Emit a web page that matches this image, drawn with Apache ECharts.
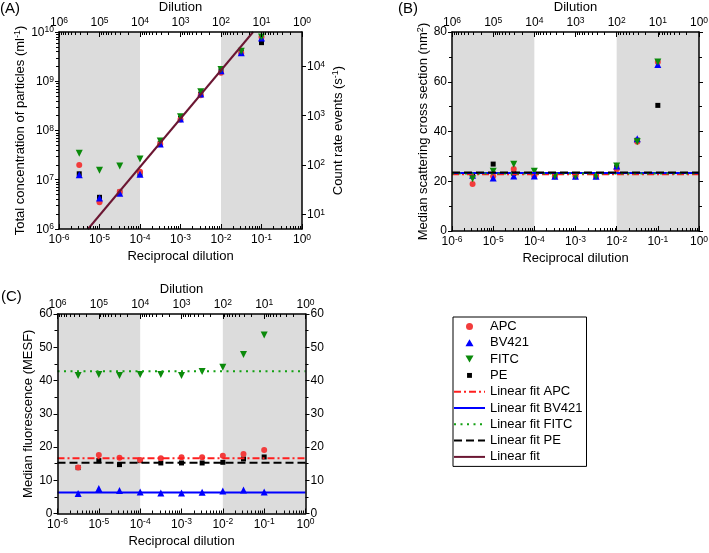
<!DOCTYPE html>
<html><head><meta charset="utf-8">
<script src="https://cdn.jsdelivr.net/npm/echarts@6/dist/echarts.min.js"></script>
<style>html,body{margin:0;padding:0;background:#fff}#c{width:709px;height:553px}</style>
</head><body><div id="c"></div>
<script>
// ---------- data ----------
const reciprocalDilution = [3.16e-6, 1e-5, 3.16e-5, 1e-4, 3.16e-4, 1e-3, 3.16e-3, 1e-2, 3.16e-2, 1e-1];
const shadedRanges = [[1e-6, 1e-4], [1e-2, 1]];
const fitXRange = [1e-6, 1];

// (A) total concentration of particles (ml^-1)
const concAPC   = [2.0e7, 3.5e6, 5.7e6, 1.45e7, 5.3e7, 1.68e8, 5.2e8, 1.48e9, 3.76e9, 7.9e9];
const concBV421 = [1.26e7, 4.24e6, 5.3e6, 1.3e7, 5.3e7, 1.71e8, 5.5e8, 1.63e9, 3.8e9, 7.57e9];
const concFITC  = [3.45e7, 1.56e7, 1.9e7, 2.65e7, 6.1e7, 1.9e8, 6.1e8, 1.73e9, 4.06e9, 7.9e9];
const concPE    = [1.32e7, 4.4e6, 5.6e6, 1.32e7, 5.5e7, 1.75e8, 5.5e8, 1.63e9, 3.9e9, 6.08e9];
const linearFitX = [5.2e-6, 6.2e-2];
const linearFitY = [1e6, 1e10];

// (B) median scattering cross section (nm^2)
const scatAPC   = [18.9, 22.0, 24.9, 22.1, 22.0, 22.0, 22.0, 24.8, 35.9, 67.9];
const scatBV421 = [22.4, 21.3, 22.1, 22.1, 22.0, 22.0, 22.0, 26.1, 37.1, 66.9];
const scatFITC  = [21.0, 24.0, 26.8, 24.0, 22.0, 22.0, 22.0, 26.1, 35.9, 67.9];
const scatPE    = [22.5, 26.9, 23.2, 22.8, 22.5, 22.3, 22.5, 25.5, 36.5, 50.5];
const scatFit   = {APC: 22.8, BV421: 23.3, FITC: 23.1, PE: 23.5};

// (C) median fluorescence (MESF)
const fluoAPC   = [13.8, 17.6, 16.8, 16.1, 16.6, 16.9, 16.9, 17.4, 17.9, 19.1];
const fluoBV421 = [6.0, 7.5, 6.9, 6.5, 6.2, 6.2, 6.4, 6.8, 7.1, 6.5];
const fluoFITC  = [41.5, 41.8, 41.5, 41.8, 41.8, 41.5, 42.7, 44.0, 47.8, 53.7];
const fluoPE    = [13.8, 15.9, 14.7, 15.9, 15.2, 15.2, 15.2, 15.4, 16.4, 17.0];
const fluoFit   = {APC: 16.6, BV421: 6.3, FITC: 42.8, PE: 15.3};

const legendNames = ['APC', 'BV421', 'FITC', 'PE', 'Linear fit APC', 'Linear fit BV421', 'Linear fit FITC', 'Linear fit PE', 'Linear fit'];

// ---------- styles ----------
const FONT = '"Liberation Sans", Arial, sans-serif';
const BLACK = '#000';
const COL = {APC: '#f23c3c', BV421: '#0000ff', FITC: '#0b8a0b', PE: '#000000'};
const SYM = {
  APC: {symbol: 'circle', symbolSize: 6, symbolRotate: 0},
  BV421: {symbol: 'triangle', symbolSize: 7, symbolRotate: 0},
  FITC: {symbol: 'triangle', symbolSize: 7, symbolRotate: 180},
  PE: {symbol: 'rect', symbolSize: 5, symbolRotate: 0}
};
const FITSTYLE = {
  APC: {color: '#ff1f1f', width: 2, type: [7, 3, 2, 3]},
  BV421: {color: '#0000ff', width: 2, type: 'solid'},
  FITC: {color: '#12a012', width: 2, type: [2, 4.5]},
  PE: {color: '#000', width: 2, type: [8, 4]}
};

const supRich = {
  b: {fontSize: 12, fontFamily: FONT, color: BLACK, padding: [4, 0, 0, 0], lineHeight: 13, verticalAlign: 'bottom'},
  s: {fontSize: 8.5, fontFamily: FONT, color: BLACK, lineHeight: 9, verticalAlign: 'top'}
};
function supLabel(v) {
  const e = Math.round(Math.log10(v));
  return '{b|10}{s|' + e + '}';
}
const nameRich = {
  b: {fontSize: 13, fontFamily: FONT, color: BLACK, padding: [3, 0, 0, 0], lineHeight: 14, verticalAlign: 'bottom'},
  s: {fontSize: 9, fontFamily: FONT, color: BLACK, lineHeight: 9, verticalAlign: 'top'}
};
const axisLine = {show: true, onZero: false, lineStyle: {color: BLACK, width: 1.5}};

function xBottom(gi) {
  return {
    type: 'log', gridIndex: gi, min: 1e-6, max: 1, position: 'bottom', z: 5,
    name: 'Reciprocal dilution', nameLocation: 'middle', nameGap: 21, nameMoveOverlap: false,
    nameTextStyle: {fontSize: 13, fontFamily: FONT, color: BLACK},
    axisLine: axisLine,
    axisTick: {show: true, inside: true, length: 5, lineStyle: {color: BLACK, width: 1}},
    minorTick: {show: true, splitNumber: 9, length: 3, lineStyle: {color: BLACK, width: 1}},
    axisLabel: {formatter: supLabel, margin: 4, rich: supRich},
    splitLine: {show: false}, minorSplitLine: {show: false}
  };
}
function xTop(gi) {
  return {
    type: 'log', gridIndex: gi, min: 1, max: 1e6, inverse: true, position: 'top', z: 5,
    name: 'Dilution', nameLocation: 'middle', nameGap: 18, nameMoveOverlap: false,
    nameTextStyle: {fontSize: 13, fontFamily: FONT, color: BLACK},
    axisLine: axisLine,
    axisTick: {show: true, inside: true, length: 5, lineStyle: {color: BLACK, width: 1}},
    minorTick: {show: true, splitNumber: 9, length: 3, lineStyle: {color: BLACK, width: 1}},
    axisLabel: {formatter: supLabel, margin: 3, rich: supRich},
    splitLine: {show: false}, minorSplitLine: {show: false}
  };
}
function yLin(gi, pos, max, interval, name, nameGap, showLabel) {
  return {
    type: 'value', gridIndex: gi, min: 0, max: max, interval: interval, position: pos, z: 5,
    name: name, nameLocation: 'middle', nameGap: nameGap,
    nameTextStyle: {fontSize: 13, fontFamily: FONT, color: BLACK, rich: nameRich},
    axisLine: axisLine,
    axisTick: {show: true, inside: false, length: 4, lineStyle: {color: BLACK, width: 1}},
    minorTick: {show: true, splitNumber: 2, length: 3, lineStyle: {color: BLACK, width: 1}},
    axisLabel: {show: showLabel, margin: 5, fontSize: 12, fontFamily: FONT, color: BLACK},
    splitLine: {show: false}, minorSplitLine: {show: false}
  };
}

const xAxes = [xBottom(0), xTop(0), xBottom(1), xTop(1), xBottom(2), xTop(2)];
const yAxes = [
  { // 0: A left
    type: 'log', gridIndex: 0, min: 1e6, max: 1e10, position: 'left', z: 5,
    name: '{b|Total concentration of particles (ml}{s|-1}{b|)}', nameLocation: 'middle', nameGap: 29,
    nameTextStyle: {fontSize: 13, fontFamily: FONT, color: BLACK, rich: nameRich},
    axisLine: axisLine,
    axisTick: {show: true, inside: false, length: 4, lineStyle: {color: BLACK, width: 1}},
    minorTick: {show: true, splitNumber: 9, length: 3, lineStyle: {color: BLACK, width: 1}},
    axisLabel: {formatter: supLabel, margin: 5, rich: supRich},
    splitLine: {show: false}, minorSplitLine: {show: false}
  },
  { // 1: A right (count rate)
    type: 'log', gridIndex: 0, min: 5.0, max: 50119, position: 'right', z: 5,
    name: '{b|Count rate events (s}{s|-1}{b|)}', nameLocation: 'middle', nameGap: 28,
    nameTextStyle: {fontSize: 13, fontFamily: FONT, color: BLACK, rich: nameRich},
    axisLine: axisLine,
    axisTick: {show: true, inside: false, length: 4, lineStyle: {color: BLACK, width: 1}},
    axisLabel: {formatter: supLabel, margin: 5, rich: supRich, showMinLabel: false, showMaxLabel: false},
    splitLine: {show: false}
  },
  yLin(1, 'left', 80, 20, '{b|Median scattering cross section (nm}{s|2}{b|)}', 20, true),
  yLin(1, 'right', 80, 20, '', 0, false),
  yLin(2, 'left', 60, 10, 'Median fluorescence (MESF)', 22, true),
  yLin(2, 'right', 60, 10, '', 0, true)
];

const series = [];
function addShade(xi, yi) {
  series.push({
    type: 'line', name: 'shade' + xi, xAxisIndex: xi, yAxisIndex: yi, data: [], silent: true, z: 1,
    markArea: {silent: true, itemStyle: {color: '#dcdcdc'},
      data: shadedRanges.map(r => [{xAxis: r[0]}, {xAxis: r[1]}])}
  });
}
function addScatter(name, xi, yi, vals) {
  series.push(Object.assign({
    type: 'scatter', name: name, xAxisIndex: xi, yAxisIndex: yi, z: 3,
    data: reciprocalDilution.map((x, i) => [x, vals[i]]),
    itemStyle: {color: COL[name], opacity: 1}
  }, SYM[name]));
}
function addFit(key, xi, yi, level) {
  series.push({
    type: 'line', name: 'Linear fit ' + key, xAxisIndex: xi, yAxisIndex: yi, z: 4,
    symbol: 'none', data: fitXRange.map(x => [x, level]),
    lineStyle: FITSTYLE[key], itemStyle: {color: FITSTYLE[key].color}
  });
}

// Panel A
addShade(0, 0);
addScatter('PE', 0, 0, concPE);
addScatter('APC', 0, 0, concAPC);
addScatter('BV421', 0, 0, concBV421);
addScatter('FITC', 0, 0, concFITC);
series.push({
  type: 'line', name: 'Linear fit', xAxisIndex: 0, yAxisIndex: 0, z: 4, symbol: 'none',
  data: linearFitX.map((x, i) => [x, linearFitY[i]]),
  lineStyle: {color: '#6b1632', width: 2}, itemStyle: {color: '#6b1632'}
});
// Panel B
addShade(2, 2);
addScatter('PE', 2, 2, scatPE);
addScatter('APC', 2, 2, scatAPC);
addScatter('BV421', 2, 2, scatBV421);
addScatter('FITC', 2, 2, scatFITC);
['APC', 'BV421', 'FITC', 'PE'].forEach(k => addFit(k, 2, 2, scatFit[k]));
// Panel C
addShade(4, 4);
addScatter('PE', 4, 4, fluoPE);
addScatter('APC', 4, 4, fluoAPC);
addScatter('BV421', 4, 4, fluoBV421);
addScatter('FITC', 4, 4, fluoFITC);
['APC', 'BV421', 'FITC', 'PE'].forEach(k => addFit(k, 4, 4, fluoFit[k]));

const legendIcons = {
  APC: 'circle',
  BV421: 'path://M5,0L10,8.66L0,8.66Z',
  FITC: 'path://M0,0L10,0L5,8.66Z',
  PE: 'path://M0,0M10,10M1.5,1.5L8.5,1.5L8.5,8.5L1.5,8.5Z'
};

const option = {
  animation: false,
  backgroundColor: '#fff',
  textStyle: {fontFamily: FONT},
  title: [
    {text: '(A)', left: 0, top: 1, padding: 0, textStyle: {fontSize: 15, fontWeight: 'normal', fontFamily: FONT, color: BLACK}},
    {text: '(B)', left: 398, top: 1, padding: 0, textStyle: {fontSize: 15, fontWeight: 'normal', fontFamily: FONT, color: BLACK}},
    {text: '(C)', left: 1, top: 289, padding: 0, textStyle: {fontSize: 15, fontWeight: 'normal', fontFamily: FONT, color: BLACK}}
  ],
  grid: [
    {left: 59, top: 32, width: 243, height: 197, containLabel: false, outerBoundsMode: 'none'},
    {left: 452, top: 32, width: 247, height: 199, containLabel: false, outerBoundsMode: 'none'},
    {left: 57.5, top: 314, width: 248, height: 199.5, containLabel: false, outerBoundsMode: 'none'}
  ],
  legend: {
    orient: 'vertical', left: 453, top: 317, itemWidth: 31, itemHeight: 7, itemGap: 3.3,
    padding: [3, 4, 3, 0], borderColor: BLACK, borderWidth: 1, selectedMode: false,
    textStyle: {fontSize: 13, color: BLACK, fontFamily: FONT},
    data: legendNames.map(n => legendIcons[n]
      ? {name: n, icon: legendIcons[n]}
      : {name: n, itemStyle: {opacity: 0}})
  },
  xAxis: xAxes,
  yAxis: yAxes,
  series: series
};

const chart = echarts.init(document.getElementById('c'), null, {renderer: 'canvas'});
chart.setOption(option);
</script></body></html>
